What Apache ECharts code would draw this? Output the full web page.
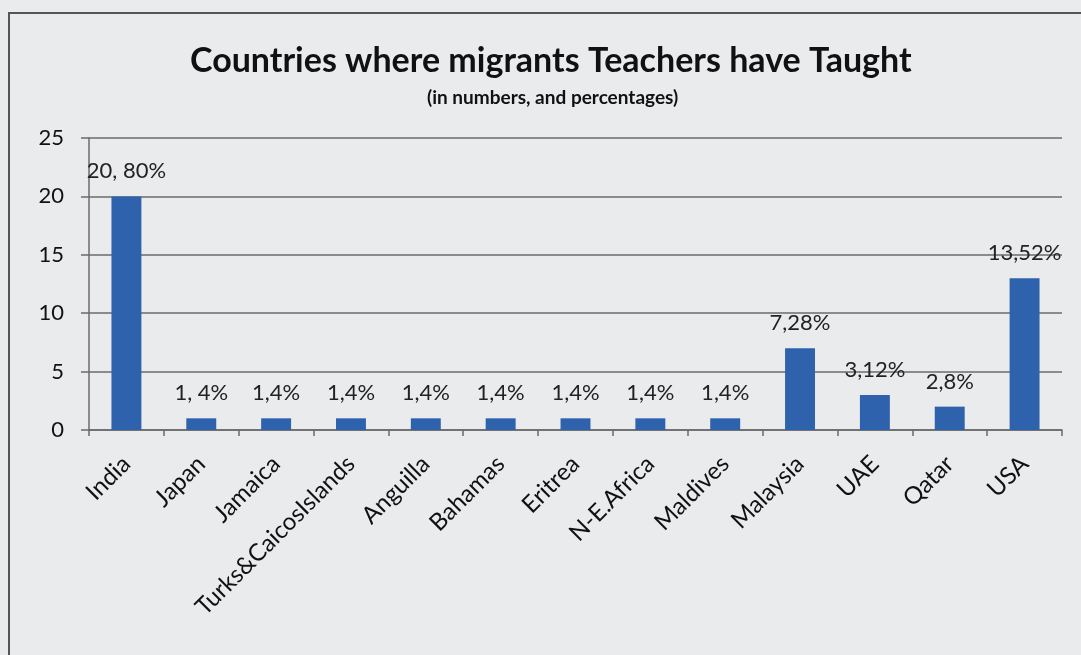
<!DOCTYPE html>
<html>
<head>
<meta charset="utf-8">
<script src="https://cdn.jsdelivr.net/npm/echarts@6/dist/echarts.min.js"></script>
<style>
  html, body { margin: 0; padding: 0; background: #e9ebed; }
  #chart { width: 1081px; height: 655px; }
</style>
</head>
<body>
<div id="chart"></div>
<script>
// Countries and number of migrant teachers who taught there
const countries = ['India', 'Japan', 'Jamaica', 'Turks&CaicosIslands', 'Anguilla', 'Bahamas',
  'Eritrea', 'N-E.Africa', 'Maldives', 'Malaysia', 'UAE', 'Qatar', 'USA'];
const teachers = [20, 1, 1, 1, 1, 1, 1, 1, 1, 7, 3, 2, 13];
const valueLabels = ['20, 80%', '1, 4%', '1,4%', '1,4%', '1,4%', '1,4%', '1,4%', '1,4%', '1,4%',
  '7,28%', '3,12%', '2,8%', '13,52%'];

const FONT = 'Lato, "Open Sans", sans-serif';
const chart = echarts.init(document.getElementById('chart'));

chart.setOption({
  backgroundColor: '#e9ebed',
  animation: false,
  textStyle: { fontFamily: FONT },
  title: [{
    text: 'Countries where migrants Teachers have Taught',
    left: 185,
    top: 39,
    textStyle: { fontFamily: FONT, fontSize: 34, fontWeight: 'bold', color: '#111' }
  }, {
    text: '(in numbers, and percentages)',
    left: 422,
    top: 83,
    textStyle: { fontFamily: FONT, fontSize: 19, fontWeight: 'bold', color: '#111' }
  }],
  graphic: [{
    type: 'rect',
    shape: { x: 9, y: 13, width: 1200, height: 800 },
    style: { fill: null, stroke: '#555', lineWidth: 2 },
    silent: true
  }],
  grid: { left: 89, right: 19, top: 138, bottom: 225, containLabel: false },
  xAxis: {
    type: 'category',
    data: countries,
    axisLine: { lineStyle: { color: '#6b6b6b', width: 1.5 } },
    axisTick: { show: true, length: 6, alignWithLabel: false, lineStyle: { color: '#6b6b6b', width: 1.5 } },
    axisLabel: { rotate: 45, fontSize: 24, color: '#111', margin: 30, interval: 0, fontFamily: FONT }
  },
  yAxis: {
    type: 'value',
    min: 0, max: 25, interval: 5,
    axisLine: { show: true, lineStyle: { color: '#6b6b6b', width: 1.5 } },
    axisTick: { show: true, length: 8, inside: false, lineStyle: { color: '#6b6b6b', width: 1.5 } },
    axisLabel: { fontSize: 22, color: '#111', margin: 25, fontFamily: FONT },
    splitLine: { show: true, lineStyle: { color: '#6b6b6b', width: 1.5 } }
  },
  series: [{
    type: 'bar',
    data: teachers,
    barWidth: '40%',
    itemStyle: { color: '#2f62ad' },
    label: {
      show: true,
      position: 'top',
      distance: 14,
      fontSize: 22,
      color: '#222',
      fontFamily: FONT,
      formatter: p => valueLabels[p.dataIndex]
    }
  }]
});
</script>
</body>
</html>
